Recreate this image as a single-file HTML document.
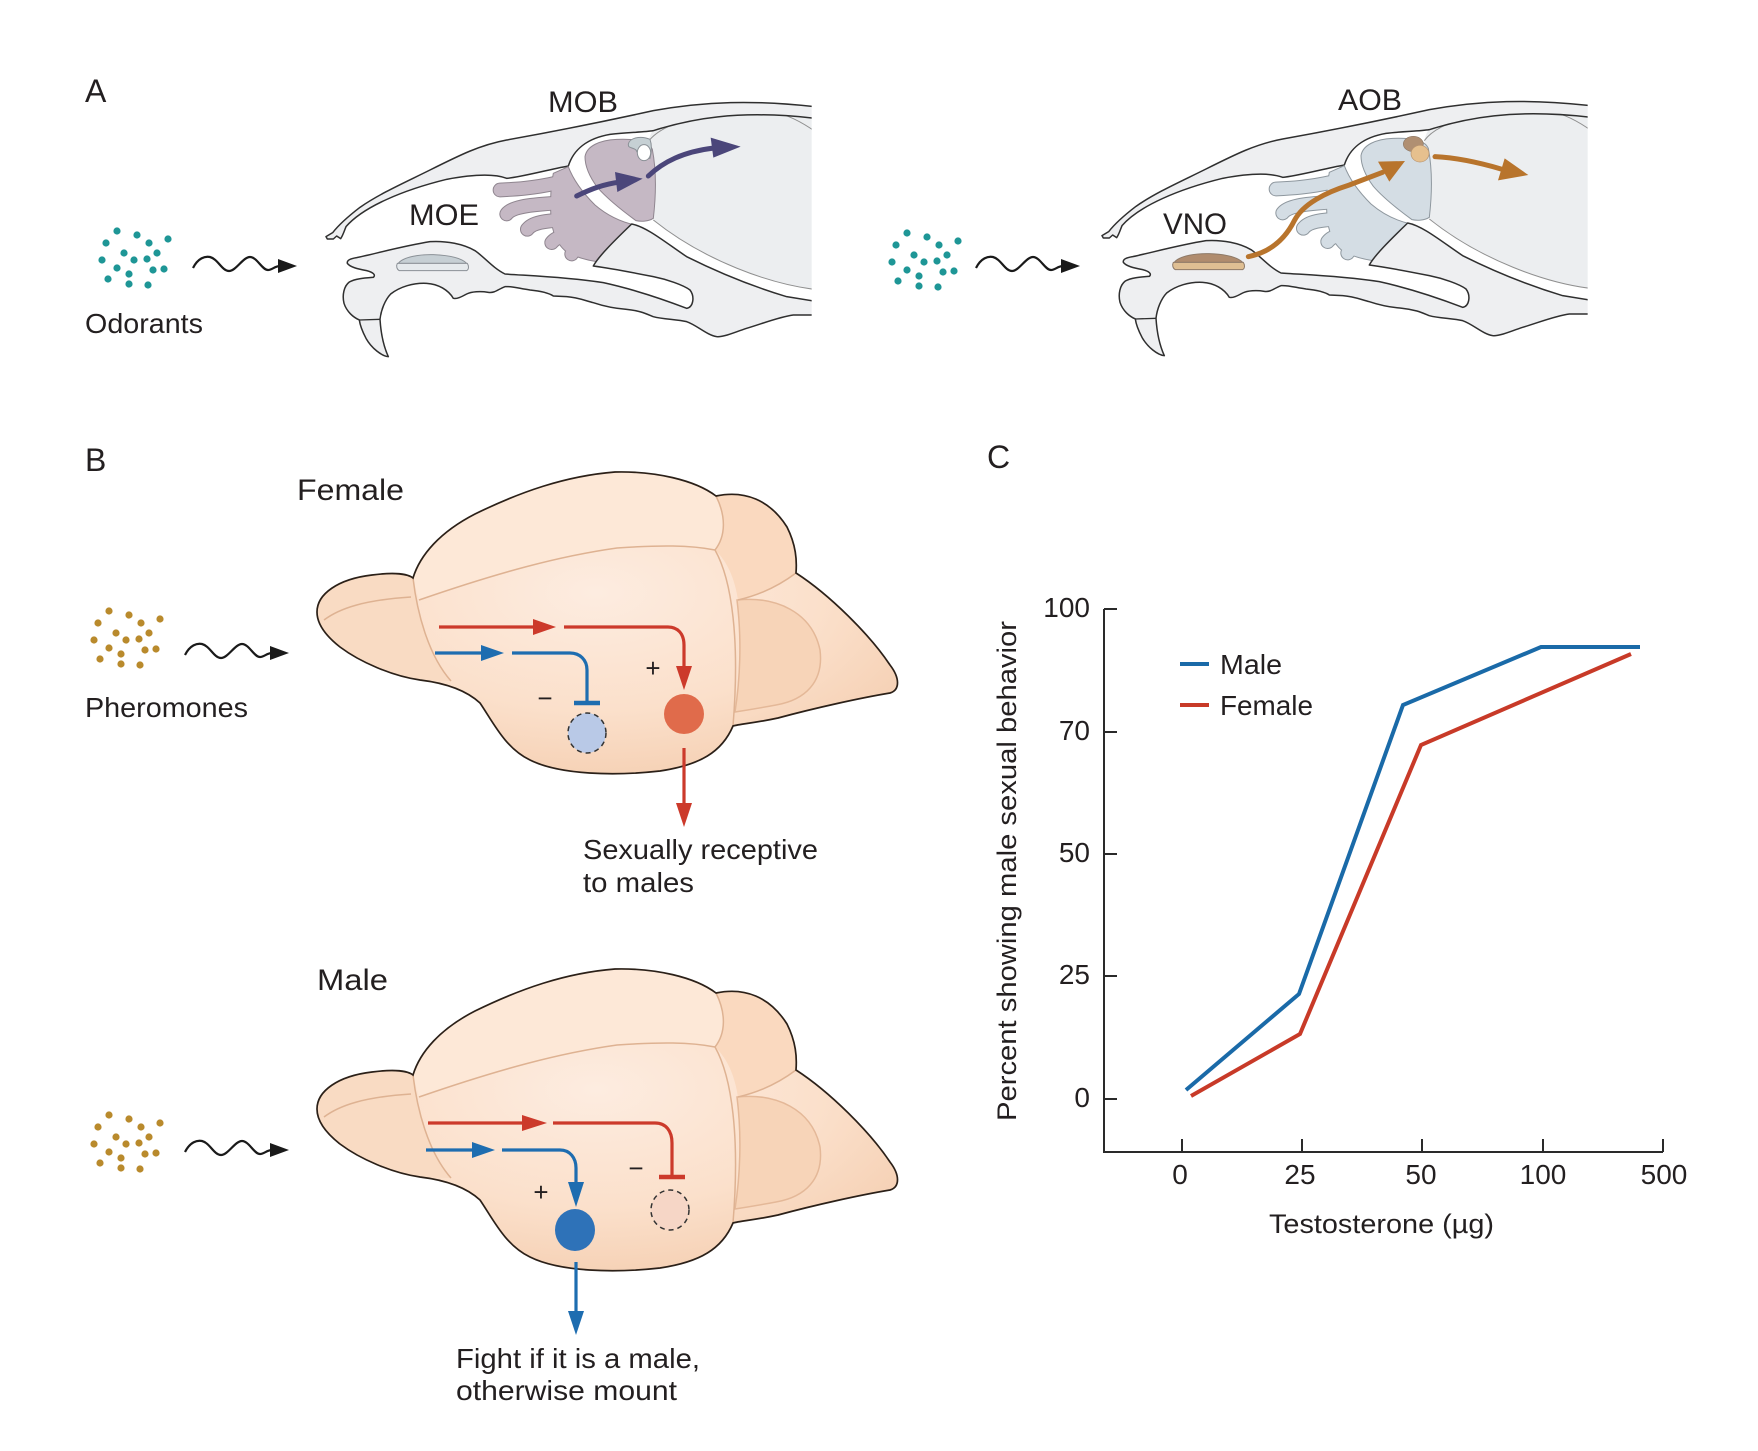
<!DOCTYPE html>
<html>
<head>
<meta charset="utf-8">
<style>
  html,body{margin:0;padding:0;background:#ffffff;}
  svg{display:block;}
  text{font-family:"Liberation Sans",sans-serif;fill:#231f20;}
</style>
</head>
<body>
<svg xmlns="http://www.w3.org/2000/svg" xmlns:xlink="http://www.w3.org/1999/xlink" width="1758" height="1451" viewBox="0 0 1758 1451">
<defs>
  <clipPath id="skclip" clipPathUnits="userSpaceOnUse"><rect x="-60" y="-60" width="1535" height="1000"/></clipPath>
  <radialGradient id="bgr" cx="0.48" cy="0.40" r="0.65">
    <stop offset="0" stop-color="#fdece0"/>
    <stop offset="0.6" stop-color="#fbe0cb"/>
    <stop offset="1" stop-color="#f5cfb2"/>
  </radialGradient>

  <g id="skullTop">
    <path d="M985,155 C990,135 995,125 1000,122 C1100,90 1250,55 1500,87 L1500,600 C1350,585 1150,510 1000,390 C1012,320 1010,230 985,155 Z" fill="#eceef0"/>
    <path d="M985,155 C1020,105 1150,60 1300,58 C1380,60 1440,90 1500,135" fill="none" stroke="#8f8f8f" stroke-width="3"/>
    <path d="M1500,600 C1350,585 1150,510 1000,390" fill="none" stroke="#8f8f8f" stroke-width="3"/>
    <path d="M18,440 L38,428 C60,400 90,375 120,352 C180,310 260,275 330,240 C420,195 480,165 560,150 C700,125 850,95 1000,62 C1150,35 1300,28 1500,52 L1500,87 C1250,55 1100,90 1000,122 C970,127 920,127 870,133 C800,145 760,180 745,228 C680,240 600,262 560,265 C520,250 450,255 380,268 C250,300 130,350 78,410 C72,425 68,438 62,446 L50,438 L40,447 L22,447 Z" fill="#eeeff1" stroke="#2f2f2f" stroke-width="4.5" stroke-linejoin="round"/>
  </g>
  <g id="skullBottom">
    <path d="M935,402 C980,410 1040,460 1100,500 C1200,550 1300,590 1400,620 L1500,636 L1500,675 L1420,675 C1380,680 1330,700 1280,715 C1240,728 1210,742 1190,740 C1160,735 1130,705 1100,695 C1070,688 1030,688 1000,680 C980,672 960,662 920,658 C880,655 850,648 820,638 C790,630 770,622 740,620 L700,618 C685,608 660,603 630,600 C600,596 575,588 555,590 C535,597 525,610 505,607 C480,603 455,605 440,612 C425,620 410,628 400,625 C385,600 355,582 320,580 C280,578 240,590 212,612 C195,630 183,660 180,688 C183,735 192,772 205,800 C185,798 155,775 138,745 C126,722 120,705 118,690 C100,682 80,665 72,640 C66,615 72,588 88,576 C105,566 135,564 160,562 C168,555 160,547 140,542 C115,537 90,532 82,520 C80,510 92,506 110,503 C170,490 250,468 330,455 C380,452 430,462 465,482 C495,503 520,535 555,552 C620,557 730,560 850,578 C950,600 1040,632 1100,655 C1120,652 1125,620 1110,600 C1090,585 1040,568 1000,560 C940,548 880,536 820,528 C835,500 880,455 935,402 Z" fill="#eeeff1" stroke="#2f2f2f" stroke-width="4.5" stroke-linejoin="round"/>
    <path d="M118,690 L181,688" stroke="#2f2f2f" stroke-width="4" fill="none"/>
  </g>
  <g id="turbOutline" fill="none" stroke-linecap="round">
    <path d="M540,300 C580,298 640,295 705,280"/>
    <path d="M560,372 C575,352 620,345 700,340"/>
    <path d="M622,418 C637,398 672,392 740,390"/>
    <path d="M695,458 C710,438 748,430 815,428"/>
    <path d="M755,492 C770,470 810,462 875,462"/>
  </g>
  <path id="turbBody" d="M700,250 L745,230 C760,270 790,310 825,345 C860,375 900,395 945,405 L830,515 C800,510 760,500 735,482 C710,460 700,430 695,400 C690,360 690,300 700,250 Z"/>
  <path id="bulb" d="M795,200 C800,168 840,150 890,148 C940,146 985,150 997,178 C1007,230 1010,300 1000,385 C985,395 962,395 948,392 C915,368 865,330 832,292 C812,265 795,232 795,200 Z"/>

  <g id="dots">
    <circle cx="117" cy="231" r="3.6"/><circle cx="137" cy="235" r="3.6"/><circle cx="168" cy="239" r="3.6"/>
    <circle cx="106" cy="243" r="3.6"/><circle cx="149" cy="243" r="3.6"/><circle cx="124" cy="253" r="3.6"/>
    <circle cx="157" cy="253" r="3.6"/><circle cx="102" cy="260" r="3.6"/><circle cx="134" cy="260" r="3.6"/>
    <circle cx="147" cy="259" r="3.6"/><circle cx="117" cy="268" r="3.6"/><circle cx="164" cy="269" r="3.6"/>
    <circle cx="153" cy="270" r="3.6"/><circle cx="129" cy="274" r="3.6"/><circle cx="108" cy="279" r="3.6"/>
    <circle cx="129" cy="284" r="3.6"/><circle cx="148" cy="285" r="3.6"/>
  </g>
  <g id="wave">
    <path d="M0,0 C5,-10 12,-12 17,-11 C25,-9 29,3 36,3 C43,3 50,-11 57,-11 C64,-11 69,2 75,2 C79,2 82,-2 87,-2" fill="none" stroke="#1a1a1a" stroke-width="2.2"/>
    <polygon points="85,-9 104,-2 85,5" fill="#1a1a1a"/>
  </g>

  <g id="brain">
    <path d="M317,612 C317,594 338,579 372,575 C395,572 408,574 413,578 C420,555 440,532 475,514 C520,492 565,476 615,472 C655,471 695,480 716,496 C745,490 770,500 787,527 C796,545 797,560 796,573 C830,595 870,635 890,665 C900,678 900,690 890,693 C860,698 815,708 778,718 C755,723 740,724 733,726 C722,752 700,765 660,771 C615,776 560,775 530,760 C505,748 493,722 480,703 C466,690 445,683 420,680 C392,676 360,662 340,647 C326,636 317,624 317,612 Z" fill="url(#bgr)"/>
    <path d="M413,578 C420,555 440,532 475,514 C520,492 565,476 615,472 C655,471 695,480 716,496 C726,516 726,536 715,550 C690,545 660,545 617,548 C560,556 500,572 419,600 Z" fill="#fde8d7"/>
    <path d="M317,612 C317,594 338,579 372,575 C395,572 408,574 413,578 C417,612 428,655 451,681 C440,681 430,680 420,680 C392,676 360,662 340,647 C326,636 317,624 317,612 Z" fill="#f9dbc3"/>
    <path d="M716,496 C745,490 770,500 787,527 C796,545 797,560 796,573 C780,585 760,595 738,600 C735,580 728,562 715,550 C726,536 726,516 716,496 Z" fill="#fad9bf"/>
    <path d="M737,600 C776,596 812,612 820,650 C824,682 805,700 776,705 C760,708 748,710 735,712 C740,680 742,640 737,600 Z" fill="#f7d4b8" stroke="#e4b898" stroke-width="1.5"/>
    <g fill="none" stroke="#deb292" stroke-width="1.5">
      <path d="M413,578 C417,612 428,655 451,681"/>
      <path d="M324,620 C340,608 365,600 411,597"/>
      <path d="M419,600 C500,572 560,556 617,548 C660,545 690,545 715,550"/>
      <path d="M716,496 C726,516 726,536 715,550 C732,580 740,640 733,726"/>
      <path d="M796,573 C780,585 760,595 738,600"/>
    </g>
    <path d="M317,612 C317,594 338,579 372,575 C395,572 408,574 413,578 C420,555 440,532 475,514 C520,492 565,476 615,472 C655,471 695,480 716,496 C745,490 770,500 787,527 C796,545 797,560 796,573 C830,595 870,635 890,665 C900,678 900,690 890,693 C860,698 815,708 778,718 C755,723 740,724 733,726 C722,752 700,765 660,771 C615,776 560,775 530,760 C505,748 493,722 480,703 C466,690 445,683 420,680 C392,676 360,662 340,647 C326,636 317,624 317,612 Z" fill="none" stroke="#2b2018" stroke-width="1.7"/>
  </g>
</defs>

<!-- ================= PANEL A ================= -->
<text x="85" y="102" font-size="32">A</text>
<use xlink:href="#dots" fill="#1e9696"/>
<use xlink:href="#wave" transform="translate(193,268)"/>
<text x="85" y="333" font-size="28" textLength="118" lengthAdjust="spacingAndGlyphs">Odorants</text>

<!-- Skull 1 -->
<g transform="translate(320,90) scale(0.33333)">
  <g clip-path="url(#skclip)">
    <use xlink:href="#skullTop"/>
    <use xlink:href="#turbOutline" stroke="#8f858f" stroke-width="44"/>
    <use xlink:href="#turbBody" fill="#c5b8c4" stroke="#8f858f" stroke-width="3"/>
    <use xlink:href="#turbOutline" stroke="#c5b8c4" stroke-width="38"/>
    <use xlink:href="#bulb" fill="#c5b8c4" stroke="#8f858f" stroke-width="3"/>
    <path d="M925,165 C925,145 960,135 990,148 C996,165 995,185 990,205 C975,210 955,195 948,180 C940,172 925,175 925,165 Z" fill="#c6d0d4" stroke="#8a9096" stroke-width="3"/>
    <ellipse cx="972" cy="188" rx="20" ry="24" fill="#ffffff" stroke="#8a9096" stroke-width="3"/>
    <use xlink:href="#skullBottom"/>
    <path d="M235,520 C250,500 300,493 340,494 C390,496 425,505 440,520 Z" fill="#c6cfd4" stroke="#8a9096" stroke-width="3"/>
    <path d="M232,520 L442,520 C447,528 447,538 440,542 L238,542 C230,538 228,528 232,520 Z" fill="#e6eaed" stroke="#8a9096" stroke-width="3"/>
    <path d="M770,318 C815,296 850,283 900,276" fill="none" stroke="#4b467a" stroke-width="15" stroke-linecap="round"/>
    <polygon points="885,246 968,266 892,306" fill="#4b467a"/>
    <path d="M985,258 C1030,215 1090,185 1182,174" fill="none" stroke="#4b467a" stroke-width="15" stroke-linecap="round"/>
    <polygon points="1172,143 1262,170 1180,203" fill="#4b467a"/>
  </g>
</g>
<text x="548" y="112" font-size="30" textLength="70" lengthAdjust="spacingAndGlyphs">MOB</text>
<text x="409" y="225" font-size="30" textLength="70" lengthAdjust="spacingAndGlyphs">MOE</text>

<!-- Skull 2 -->
<use xlink:href="#dots" fill="#1e9696" transform="translate(790,2)"/>
<use xlink:href="#wave" transform="translate(976,268)"/>
<g transform="translate(1096,89) scale(0.33333)">
  <g clip-path="url(#skclip)">
    <use xlink:href="#skullTop"/>
    <use xlink:href="#turbOutline" stroke="#8e979e" stroke-width="44"/>
    <use xlink:href="#turbBody" fill="#d4dde4" stroke="#8e979e" stroke-width="3"/>
    <use xlink:href="#turbOutline" stroke="#d4dde4" stroke-width="38"/>
    <use xlink:href="#bulb" fill="#d4dde4" stroke="#8e979e" stroke-width="3"/>
    <ellipse cx="952" cy="165" rx="30" ry="23" fill="#b08f72" stroke="#8e7a68" stroke-width="2"/>
    <ellipse cx="972" cy="194" rx="27" ry="25" fill="#e6c08e" stroke="#b89470" stroke-width="2"/>
    <use xlink:href="#skullBottom"/>
    <path d="M235,520 C250,500 300,493 340,494 C390,496 425,505 440,520 Z" fill="#b08c6e" stroke="#8e7a68" stroke-width="3"/>
    <path d="M232,520 L442,520 C447,528 447,538 440,542 L238,542 C230,538 228,528 232,520 Z" fill="#dfbf93" stroke="#8e7a68" stroke-width="3"/>
    <path d="M457,503 C520,490 565,455 595,395 C620,345 690,310 760,288 L860,250" fill="none" stroke="#b8742c" stroke-width="15" stroke-linecap="round"/>
    <polygon points="927,216 880,278 846,218" fill="#b8742c"/>
    <path d="M1017,203 C1080,206 1140,218 1215,240" fill="none" stroke="#b8742c" stroke-width="15" stroke-linecap="round"/>
    <polygon points="1297,258 1206,274 1226,208" fill="#b8742c"/>
  </g>
</g>
<text x="1338" y="110" font-size="30" textLength="64" lengthAdjust="spacingAndGlyphs">AOB</text>
<text x="1163" y="234" font-size="30" textLength="64" lengthAdjust="spacingAndGlyphs">VNO</text>

<!-- ================= PANEL B ================= -->
<text x="85" y="471" font-size="32">B</text>
<text x="297" y="500" font-size="30" textLength="107" lengthAdjust="spacingAndGlyphs">Female</text>
<use xlink:href="#dots" fill="#b98a2c" transform="translate(-8,380)"/>
<use xlink:href="#wave" transform="translate(185,655)"/>
<text x="85" y="717" font-size="28" textLength="163" lengthAdjust="spacingAndGlyphs">Pheromones</text>

<use xlink:href="#brain"/>
<g stroke-width="3.2" fill="none">
  <path d="M439,627 L535,627" stroke="#cc3a2b"/>
  <path d="M564,627 L668,627 C678,627 684,634 684,645 L684,668" stroke="#cc3a2b"/>
  <path d="M435,653 L482,653" stroke="#1e6db0"/>
  <path d="M512,653 L570,653 C580,653 587,660 587,670 L587,703" stroke="#1e6db0"/>
  <path d="M574,703 L600,703" stroke="#1e6db0" stroke-width="4.5"/>
  <path d="M684,748 L684,805" stroke="#cc3a2b"/>
</g>
<polygon points="556,627 533,619 533,635" fill="#cc3a2b"/>
<polygon points="684,690 676,666 692,666" fill="#cc3a2b"/>
<polygon points="504,653 481,645 481,661" fill="#1e6db0"/>
<polygon points="684,827 676,803 692,803" fill="#cc3a2b"/>
<ellipse cx="587" cy="733" rx="19" ry="20" fill="#b9c9e7" stroke="#333" stroke-width="1.5" stroke-dasharray="5 4"/>
<ellipse cx="684" cy="714" rx="20" ry="20" fill="#e06b4b"/>
<text x="653" y="677" font-size="26" text-anchor="middle">+</text>
<text x="545" y="707" font-size="26" text-anchor="middle">−</text>
<text x="583" y="859" font-size="28" textLength="235" lengthAdjust="spacingAndGlyphs">Sexually receptive</text>
<text x="583" y="892" font-size="28" textLength="111" lengthAdjust="spacingAndGlyphs">to males</text>

<text x="317" y="990" font-size="30" textLength="71" lengthAdjust="spacingAndGlyphs">Male</text>
<use xlink:href="#dots" fill="#b98a2c" transform="translate(-8,884)"/>
<use xlink:href="#wave" transform="translate(185,1152)"/>
<use xlink:href="#brain" transform="translate(0,497)"/>
<g stroke-width="3.2" fill="none">
  <path d="M428,1123 L524,1123" stroke="#cc3a2b"/>
  <path d="M553,1123 L655,1123 C666,1123 672,1131 672,1143 L672,1177" stroke="#cc3a2b"/>
  <path d="M659,1177 L685,1177" stroke="#cc3a2b" stroke-width="4.5"/>
  <path d="M426,1150 L474,1150" stroke="#1e6db0"/>
  <path d="M502,1150 L560,1150 C570,1150 576,1158 576,1168 L576,1184" stroke="#1e6db0"/>
  <path d="M576,1262 L576,1312" stroke="#1e6db0"/>
</g>
<polygon points="547,1123 522,1115 522,1131" fill="#cc3a2b"/>
<polygon points="495,1150 472,1142 472,1158" fill="#1e6db0"/>
<polygon points="576,1207 568,1182 584,1182" fill="#1e6db0"/>
<polygon points="576,1335 568,1311 584,1311" fill="#1e6db0"/>
<ellipse cx="575" cy="1230" rx="20" ry="21" fill="#2e72b8"/>
<ellipse cx="670" cy="1210" rx="19" ry="20" fill="#f6d6c6" stroke="#333" stroke-width="1.5" stroke-dasharray="5 4"/>
<text x="541" y="1201" font-size="26" text-anchor="middle">+</text>
<text x="636" y="1177" font-size="26" text-anchor="middle">−</text>
<text x="456" y="1368" font-size="28" textLength="244" lengthAdjust="spacingAndGlyphs">Fight if it is a male,</text>
<text x="456" y="1400" font-size="28" textLength="221" lengthAdjust="spacingAndGlyphs">otherwise mount</text>

<!-- ================= PANEL C ================= -->
<g transform="translate(-3,-3)">
<text x="990" y="471" font-size="32">C</text>
<g stroke="#2a2a2a" stroke-width="2" fill="none">
  <path d="M1107,612 L1107,1155 L1666,1155"/>
  <path d="M1107,612 L1120,612 M1107,735 L1120,735 M1107,857 L1120,857 M1107,979 L1120,979 M1107,1102 L1120,1102"/>
  <path d="M1185,1155 L1185,1142 M1305,1155 L1305,1142 M1425,1155 L1425,1142 M1546,1155 L1546,1142 M1666,1155 L1666,1142"/>
</g>
<g font-size="28" text-anchor="end">
  <text x="1093" y="620">100</text>
  <text x="1093" y="743">70</text>
  <text x="1093" y="865">50</text>
  <text x="1093" y="987">25</text>
  <text x="1093" y="1110">0</text>
</g>
<g font-size="28" text-anchor="middle">
  <text x="1183" y="1187">0</text>
  <text x="1303" y="1187">25</text>
  <text x="1424" y="1187">50</text>
  <text x="1546" y="1187">100</text>
  <text x="1667" y="1187">500</text>
</g>
<text x="1272" y="1236" font-size="27" textLength="225" lengthAdjust="spacingAndGlyphs">Testosterone (µg)</text>
<text transform="translate(1019,1124) rotate(-90)" x="0" y="0" font-size="27" textLength="500" lengthAdjust="spacingAndGlyphs">Percent showing male sexual behavior</text>

<polyline points="1189,1093 1302,997 1406,708 1544,650 1643,650" fill="none" stroke="#1a6aa8" stroke-width="4"/>
<polyline points="1194,1099 1303,1037 1424,748 1634,657" fill="none" stroke="#c83a28" stroke-width="4"/>
<line x1="1183" y1="667" x2="1212" y2="667" stroke="#1a6aa8" stroke-width="4"/>
<line x1="1183" y1="708" x2="1212" y2="708" stroke="#c83a28" stroke-width="4"/>
<text x="1223" y="677" font-size="28" textLength="62" lengthAdjust="spacingAndGlyphs">Male</text>
<text x="1223" y="718" font-size="28" textLength="93" lengthAdjust="spacingAndGlyphs">Female</text>
</g>
</svg>
</body>
</html>
